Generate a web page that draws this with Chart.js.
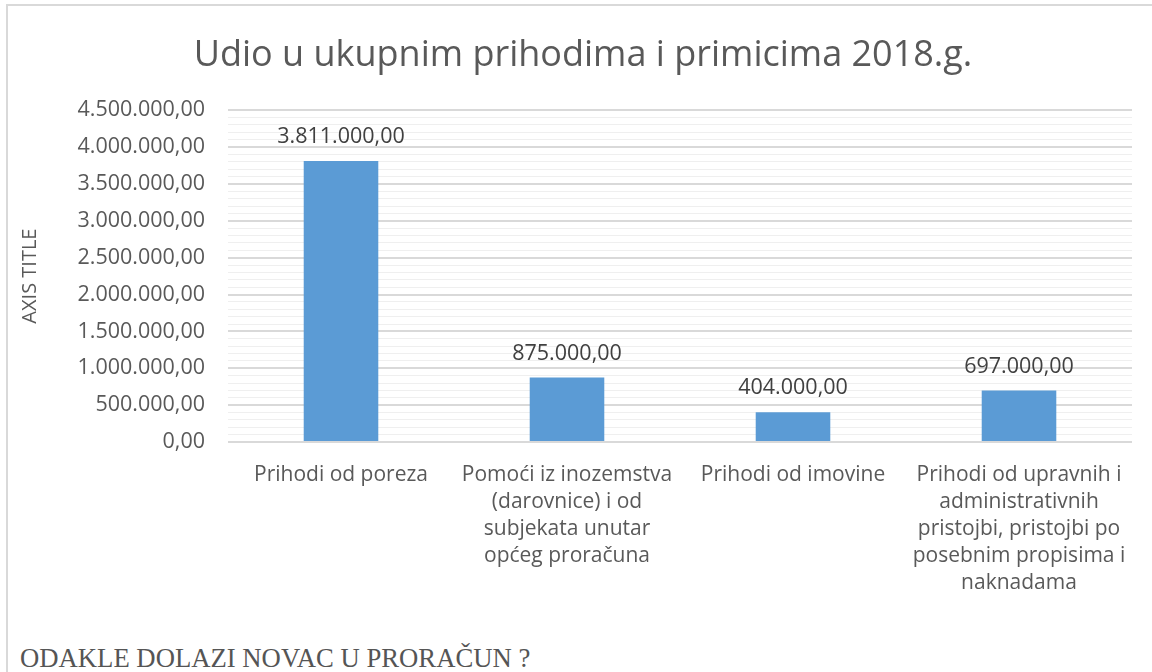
<!DOCTYPE html>
<html>
<head>
<meta charset="utf-8">
<script src="https://cdn.jsdelivr.net/npm/chart.js@4/dist/chart.umd.min.js"></script>
<style>
    body { margin: 0; background: #fff; width: 1152px; height: 672px; overflow: hidden; position: relative; }
    #frame { position: absolute; left: 6px; top: 4px; width: 1160px; height: 680px; border-top: 2px solid #d9d9d9; border-left: 2px solid #d9d9d9; }
    #wrap { position: absolute; left: 0; top: 0; width: 1152px; height: 640px; }
    #note { position: absolute; left: 20px; top: 645px; font-family: "Liberation Serif", "DejaVu Serif", serif; font-size: 26.7px; line-height: 1; color: #555; white-space: nowrap; }
</style>
</head>
<body>
<div id="frame"></div>
<div id="wrap"><canvas id="prihodiChart"></canvas></div>
<div id="note">ODAKLE DOLAZI NOVAC U PRORAČUN ?</div>

<script>
var categories = [
    ['Prihodi od poreza'],
    ['Pomoći iz inozemstva', '(darovnice) i od', 'subjekata unutar', 'općeg proračuna'],
    ['Prihodi od imovine'],
    ['Prihodi od upravnih i', 'administrativnih', 'pristojbi, pristojbi po', 'posebnim propisima i', 'naknadama']
];
var amounts = [3811000, 875000, 404000, 697000];
var yMax = 4500000;
var majorStep = 500000;
var minorStep = 100000;

// 3811000 -> "3.811.000,00"
function fmt(v) {
    var s = Math.round(v).toString().replace(/\B(?=(\d{3})+(?!\d))/g, '.');
    return s + ',00';
}

var valueLabels = {
    id: 'valueLabels',
    afterDatasetsDraw: function (chart) {
        var ctx = chart.ctx;
        var meta = chart.getDatasetMeta(0);
        ctx.save();
        ctx.font = '21.5px "Open Sans"';
        ctx.fillStyle = '#404040';
        ctx.textAlign = 'center';
        ctx.textBaseline = 'middle';
        meta.data.forEach(function (bar, i) {
            ctx.fillText(fmt(amounts[i]), bar.x, bar.y - 24);
        });
        ctx.restore();
    }
};

var ctx = document.getElementById('prihodiChart').getContext('2d');
var prihodiChart = new Chart(ctx, {
    type: 'bar',
    data: {
        labels: categories,
        datasets: [{
            data: amounts,
            backgroundColor: '#5B9BD5',
            borderWidth: 0,
            categoryPercentage: 1,
            barPercentage: 0.33
        }]
    },
    plugins: [valueLabels],
    options: {
        responsive: true,
        maintainAspectRatio: false,
        animation: false,
        layout: {
            // left padding pushes the title centre right, as in the reference
            padding: { left: 34, right: 20, top: 0, bottom: 8 }
        },
        plugins: {
            legend: { display: false },
            tooltip: { enabled: false },
            title: {
                display: true,
                text: 'Udio u ukupnim prihodima i primicima 2018.g.',
                color: '#595959',
                font: { family: 'Open Sans', size: 36, weight: 'normal', lineHeight: 1.2 },
                padding: { top: 34, bottom: 33 }
            }
        },
        scales: {
            x: {
                grid: { display: false },
                border: { display: false },
                ticks: {
                    color: '#595959',
                    font: { family: 'Open Sans', size: 21, lineHeight: 1.29 },
                    maxRotation: 0,
                    autoSkip: false,
                    padding: 11
                },
                afterFit: function (scale) { scale.height = 190; }
            },
            y: {
                min: 0,
                max: yMax,
                border: { display: false },
                grid: {
                    drawTicks: false,
                    color: function (c) {
                        return c.tick && c.tick.value % majorStep === 0 ? '#d9d9d9' : '#efefef';
                    },
                    lineWidth: function (c) {
                        return c.tick && c.tick.value % majorStep === 0 ? 2 : 1;
                    }
                },
                ticks: {
                    stepSize: minorStep,
                    maxTicksLimit: 100,
                    autoSkip: false,
                    padding: 23,
                    color: '#595959',
                    font: { family: 'Open Sans', size: 21.5 },
                    callback: function (value) {
                        return value % majorStep === 0 ? fmt(value) : '';
                    }
                },
                title: {
                    display: true,
                    text: 'AXIS TITLE',
                    color: '#595959',
                    font: { family: 'Open Sans', size: 20, lineHeight: 1.2 },
                    padding: { top: -16, bottom: 0 }
                },
                afterFit: function (scale) { scale.width = 194; }
            }
        }
    }
});
</script>
</body>
</html>
